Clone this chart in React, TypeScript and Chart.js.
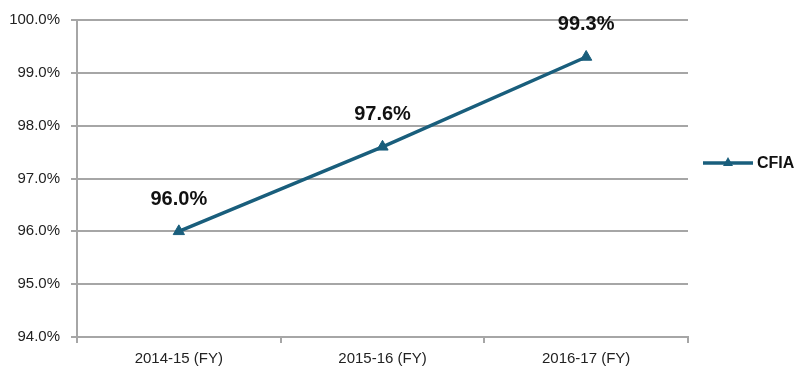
import React, { useEffect, useRef } from "react";
import { Chart, registerables } from "chart.js";

Chart.register(...registerables);

const categories = ["2014-15 (FY)", "2015-16 (FY)", "2016-17 (FY)"];
const seriesName = "CFIA";
const cfiaValues = [96.0, 97.6, 99.3];
const yMin = 94;
const yMax = 100;

const LINE_COLOR = "#195E7C";
const FONT = "'Liberation Sans', Arial, sans-serif";

const labelPlugin = {
  id: "labelsAndLegend",
  afterDatasetsDraw(chart: any) {
    const ctx = chart.ctx;
    const meta = chart.getDatasetMeta(0);
    ctx.save();
    ctx.font = `bold 20px ${FONT}`;
    ctx.fillStyle = "#111";
    ctx.textAlign = "center";
    ctx.textBaseline = "middle";
    meta.data.forEach((pt: any, i: number) => {
      ctx.fillText(cfiaValues[i].toFixed(1) + "%", pt.x, pt.y - 32);
    });
    // legend
    const ly = 163;
    ctx.strokeStyle = LINE_COLOR;
    ctx.lineWidth = 3.5;
    ctx.beginPath();
    ctx.moveTo(703, ly);
    ctx.lineTo(753, ly);
    ctx.stroke();
    ctx.fillStyle = LINE_COLOR;
    ctx.beginPath();
    ctx.moveTo(728, ly - 6);
    ctx.lineTo(733, ly + 3);
    ctx.lineTo(723, ly + 3);
    ctx.closePath();
    ctx.fill();
    ctx.fillStyle = "#111";
    ctx.font = `bold 16px ${FONT}`;
    ctx.textAlign = "left";
    ctx.fillText(seriesName, 757, ly + 1);
    ctx.restore();
  },
};

export default function App() {
  const ref = useRef<HTMLCanvasElement>(null);
  useEffect(() => {
    if (!ref.current) return;
    const chart = new Chart(ref.current, {
      type: "line",
      data: {
        labels: categories,
        datasets: [
          {
            label: seriesName,
            data: cfiaValues,
            borderColor: LINE_COLOR,
            backgroundColor: LINE_COLOR,
            borderWidth: 3.5,
            pointStyle: "triangle",
            pointRadius: 6.5,
            pointBorderWidth: 1,
            pointBackgroundColor: LINE_COLOR,
            pointBorderColor: LINE_COLOR,
            tension: 0,
          },
        ],
      },
      options: {
        animation: false,
        responsive: false,
        layout: { padding: { top: 17, right: 115, bottom: 0, left: 0 } },
        plugins: {
          legend: { display: false },
          tooltip: { enabled: false },
        },
        scales: {
          x: {
            type: "category",
            offset: true,
            grid: {
              offset: true,
              drawOnChartArea: false,
              drawTicks: true,
              tickLength: 6,
              color: "#A6A6A6",
              lineWidth: 2,
            },
            border: { color: "#A6A6A6", width: 2 },
            ticks: {
              color: "#222",
              font: { family: FONT, size: 15 },
              padding: 7,
              maxRotation: 0,
            },
            afterFit(scale: any) {
              scale.height = 48;
            },
          },
          y: {
            min: yMin,
            max: yMax,
            grid: {
              color: "#A6A6A6",
              lineWidth: 2,
              drawTicks: true,
              tickLength: 6,
            },
            border: { color: "#A6A6A6", width: 2 },
            ticks: {
              stepSize: 1,
              color: "#222",
              font: { family: FONT, size: 15 },
              padding: 11,
              callback: (v: any) => Number(v).toFixed(1) + "%",
            },
            afterFit(scale: any) {
              scale.width = 77;
            },
          },
        },
      },
      plugins: [labelPlugin],
    });
    return () => chart.destroy();
  }, []);
  return (
    <div style={{ position: "absolute", left: 0, top: 0, width: 803, height: 385, background: "#fff" }}>
      <canvas ref={ref} width={803} height={385} />
    </div>
  );
}
